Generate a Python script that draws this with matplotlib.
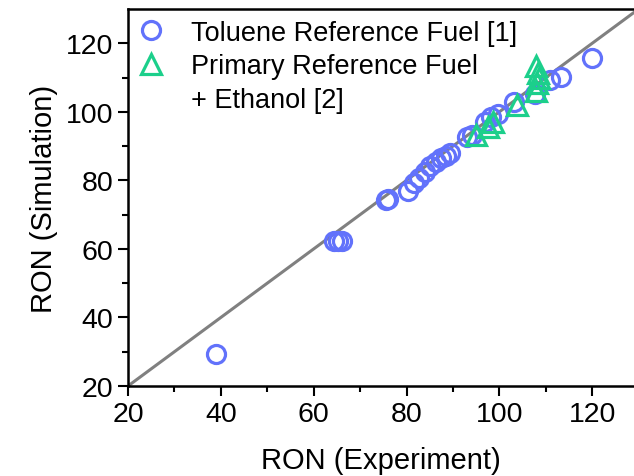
import numpy as np
import matplotlib.pyplot as plt
from matplotlib.lines import Line2D

plt.rcParams['font.family'] = ['Liberation Sans', 'DejaVu Sans']

# Toluene Reference Fuel [1]
trf_exp = [39.0, 64.3, 65.2, 66.0, 75.5, 76.0, 80.4, 81.6, 82.6, 83.9, 85.0, 86.4, 87.5,
           88.5, 89.3, 93.0, 94.0, 96.9, 98.3, 99.8, 103.2, 107.6, 111.0, 113.2, 119.9]
trf_sim = [29.4, 62.3, 62.3, 62.3, 74.3, 74.6, 77.0, 79.3, 80.8, 82.5, 84.2, 85.3, 86.4,
           87.2, 88.0, 92.6, 93.3, 97.0, 98.4, 99.3, 102.8, 105.2, 109.2, 110.2, 115.6]

# Primary Reference Fuel + Ethanol [2]
prf_exp = [95.0, 97.5, 98.6, 103.8, 107.9, 108.2, 108.6, 108.3, 107.9]
prf_sim = [93.2, 95.6, 97.0, 102.0, 106.2, 108.3, 109.8, 111.2, 113.5]

diag = [20, 130]

fig = plt.figure(figsize=(6.34, 4.77), dpi=100)
ax = fig.add_axes([128/634, 1-387/477, 1-128/634, (387-10)/477])

ax.plot(diag, diag, color="#808080", lw=2.2, zorder=1)
h1, = ax.plot(trf_exp, trf_sim, "o", ms=13, mfc="none", mec="#6272fb", mew=2.3)
h2, = ax.plot(prf_exp, prf_sim, "^", ms=14, mfc="none", mec="#1ccf8b", mew=2.3)
blank = Line2D([], [], ls="none", marker="none")

ax.set_xlim(20, 129)
ax.set_ylim(20, 130)
ax.set_xticks([20, 40, 60, 80, 100, 120])
ax.set_yticks([20, 40, 60, 80, 100, 120])
ax.set_xticks(np.arange(30, 130, 20), minor=True)
ax.set_yticks(np.arange(30, 130, 20), minor=True)
ax.tick_params(which="major", direction="out", length=7, width=1.5, labelsize=20.5)
ax.tick_params(which="minor", direction="out", length=4, width=1.5)
for s in ["left", "bottom", "top"]:
    ax.spines[s].set_linewidth(1.8)
ax.spines["right"].set_visible(False)

ax.set_xlabel("RON (Experiment)", fontsize=21, labelpad=14)
ax.set_ylabel("RON (Simulation)", fontsize=21, labelpad=6)

ax.legend([h1, h2, blank],
          ["Toluene Reference Fuel [1]", "Primary Reference Fuel", "+ Ethanol [2]"],
          loc="upper left", frameon=False, fontsize=19.5, handletextpad=0.8,
          borderaxespad=0.0, labelspacing=0.28, handlelength=1.3,
          bbox_to_anchor=(-0.01, 1.0))

fig.savefig("out.png", dpi=100)
